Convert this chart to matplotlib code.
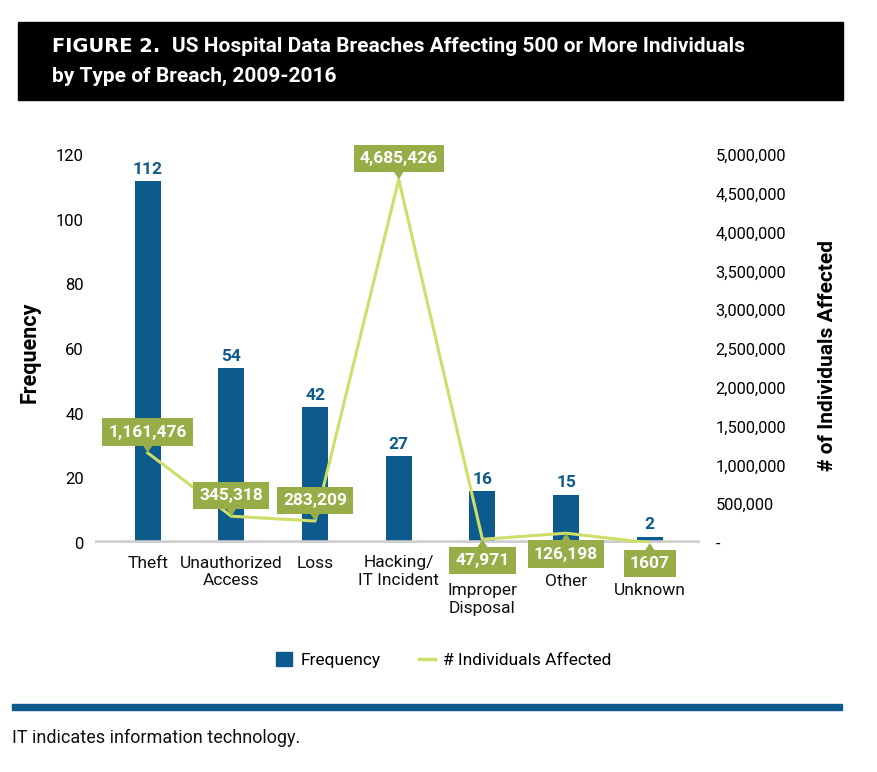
import matplotlib
matplotlib.use("Agg")
import matplotlib.pyplot as plt
from matplotlib.patches import Rectangle, Patch
from matplotlib.lines import Line2D
from matplotlib.ticker import FuncFormatter

categories = ["Theft", "Unauthorized\nAccess", "Loss", "Hacking/\nIT Incident",
              "Improper\nDisposal", "Other", "Unknown"]
frequency = [112, 54, 42, 27, 16, 15, 2]
individuals = [1161476, 345318, 283209, 4685426, 47971, 126198, 1607]
individual_labels = ["1,161,476", "345,318", "283,209", "4,685,426", "47,971", "126,198", "1607"]

BLUE = "#0D5B8C"
GREEN_BOX = "#97AE48"
GREEN_LINE = "#CEDE68"
GRAY = "#CFCFCF"
W, H = 878, 772

plt.rcParams['font.family'] = ['Roboto', 'DejaVu Sans']


def fx(px):
    return px / W


def fy(py):
    return 1 - py / H


fig = plt.figure(figsize=(W / 100, H / 100), dpi=100)

# title banner
fig.patches.append(Rectangle((fx(18), fy(100)), fx(843) - fx(18), fy(22) - fy(100),
                             transform=fig.transFigure, color="black", zorder=0))
fig.text(fx(52), fy(47), "FIGURE 2.", color="white", fontsize=14, fontweight="heavy",
         family="DejaVu Sans", va="center", ha="left")
fig.text(fx(172), fy(47), "US Hospital Data Breaches Affecting 500 or More Individuals",
         color="white", fontsize=15, fontweight="bold", va="center", ha="left")
fig.text(fx(52), fy(76), "by Type of Breach, 2009-2016",
         color="white", fontsize=15, fontweight="bold", va="center", ha="left")

ax = fig.add_axes([fx(95), fy(543), fx(700) - fx(95), fy(155) - fy(543)])
ax2 = ax.twinx()

x = list(range(len(categories)))
ax.bar(x, frequency, width=0.31, color=BLUE, zorder=2)
ax.axhline(0, color=GRAY, lw=4, zorder=3)
for xi, f in zip(x, frequency):
    ax.annotate(str(f), xy=(xi, f), xytext=(0, 3), textcoords="offset points",
                ha="center", va="bottom", color=BLUE, fontsize=12.5, fontweight="bold")

ax.set_xlim(-0.63, 6.6)
ax.set_ylim(0, 120)
ax.set_yticks([0, 20, 40, 60, 80, 100, 120])
ax.set_xticks([])
ax.tick_params(axis="y", length=0, pad=8, labelsize=12)

# category labels, staggered to clear the callouts below the baseline
label_drop = [9, 9, 9, 9, 29, 22, 29]
for xi, name, d in zip(x, categories, label_drop):
    ax.annotate(name, xy=(xi, 0), xytext=(0, -d), textcoords="offset points",
                ha="center", va="top", fontsize=12.5, linespacing=1.2, color="#111111")

ax2.plot(x, individuals, color=GREEN_LINE, lw=2.2, zorder=4)
ax2.set_ylim(0, 5000000)
ax2.set_yticks(range(0, 5000001, 500000))
ax2.yaxis.set_major_formatter(FuncFormatter(lambda v, p: "-" if v == 0 else "{:,}".format(int(v))))
ax2.tick_params(axis="y", length=0, pad=11, labelsize=11.8)

callout_side = [1, 1, 1, 1, -1, -1, -1]
for xi, v, lab, s in zip(x, individuals, individual_labels, callout_side):
    ax2.annotate(lab, xy=(xi, v), xytext=(0, 15 * s), textcoords="offset points",
                 ha="center", va="center", color="white", fontsize=12.5, fontweight="bold",
                 bbox=dict(boxstyle="square,pad=0.35", fc=GREEN_BOX, ec="none"),
                 arrowprops=dict(arrowstyle="wedge,tail_width=1.6,shrink_factor=0.5",
                                 fc=GREEN_BOX, ec="none", shrinkA=0, shrinkB=0,
                                 patchA=None, mutation_scale=12),
                 zorder=6)

for a in (ax, ax2):
    for sp in a.spines.values():
        sp.set_visible(False)

fig.text(fx(30), fy(352), "Frequency", rotation=90, fontsize=15.5, fontweight="bold",
         ha="center", va="center")
fig.text(fx(828), fy(355), "# of Individuals Affected", rotation=90, fontsize=15,
         fontweight="bold", ha="center", va="center")

handles = [Patch(color=BLUE, label="Frequency"),
           Line2D([], [], color=GREEN_LINE, lw=2.5, label="# Individuals Affected")]
fig.legend(handles=handles, loc="center", bbox_to_anchor=(fx(444), fy(660)), ncol=2,
           frameon=False, fontsize=12.5, handlelength=0.9, handleheight=0.9,
           columnspacing=2.2, handletextpad=0.5)

# bottom rule and footnote
fig.patches.append(Rectangle((fx(12), fy(710)), fx(842) - fx(12), fy(704) - fy(710),
                             transform=fig.transFigure, color=BLUE, zorder=0))
fig.text(fx(12), fy(738), "IT indicates information technology.", fontsize=13,
         ha="left", va="center", color="#111111")

fig.savefig("out.png", dpi=100)
